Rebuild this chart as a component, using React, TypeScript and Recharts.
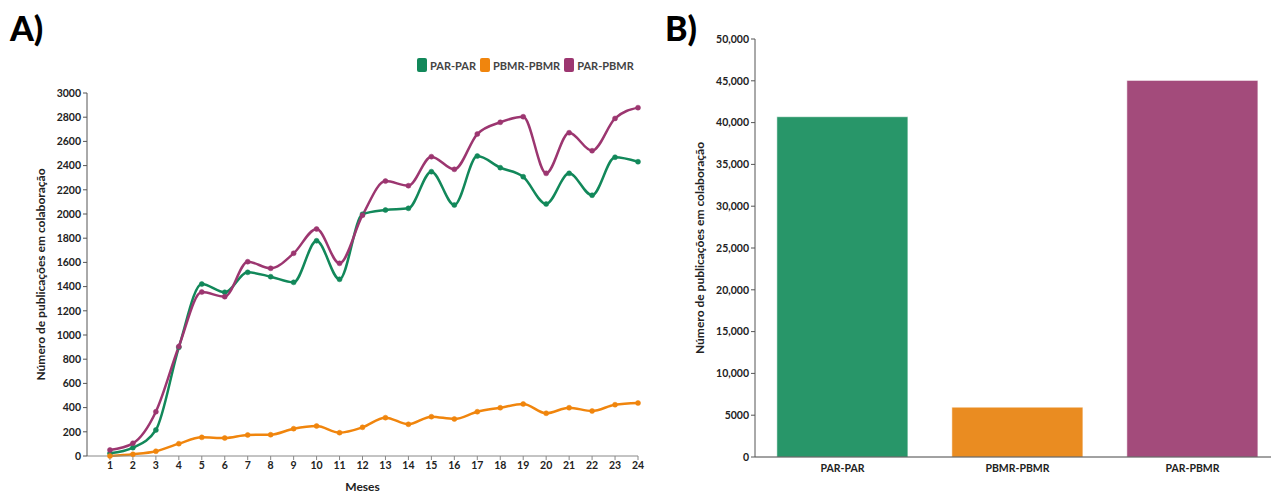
import React from 'react';
import { LineChart, Line, BarChart, Bar, Cell, XAxis, YAxis } from 'recharts';

// monthly collaboration counts (chart A)
const months = [1, 2, 3, 4, 5, 6, 7, 8, 9, 10, 11, 12, 13, 14, 15, 16, 17, 18, 19, 20, 21, 22, 23, 24];
const parPar = [22, 69, 215, 898, 1421, 1353, 1518, 1482, 1435, 1779, 1460, 1998, 2033, 2047, 2350, 2074, 2479, 2383, 2308, 2083, 2336, 2155, 2469, 2432];
const pbmrPbmr = [0, 14, 39, 102, 154, 149, 174, 176, 226, 248, 193, 237, 317, 262, 325, 306, 366, 399, 430, 353, 399, 372, 424, 438];
const parPbmr = [50, 105, 366, 905, 1355, 1317, 1606, 1551, 1675, 1876, 1592, 1990, 2272, 2234, 2474, 2369, 2661, 2758, 2804, 2336, 2672, 2523, 2790, 2879];

// totals (chart B)
const categories = ['PAR-PAR', 'PBMR-PBMR', 'PAR-PBMR'];
const totals = [40700, 5960, 45050];

const lineTicks = [0, 200, 400, 600, 800, 1000, 1200, 1400, 1600, 1800, 2000, 2200, 2400, 2600, 2800, 3000];
const barTicks = [0, 5000, 10000, 15000, 20000, 25000, 30000, 35000, 40000, 45000, 50000];

const lineColors = ['#12885a', '#f0850d', '#9c3670'];
const barColors = ['#289669', '#ea8c21', '#a34b7b'];
const seriesKeys = ['parPar', 'pbmrPbmr', 'parPbmr'];

const lineData = months.map((m, i) => ({
    month: m,
    parPar: parPar[i],
    pbmrPbmr: pbmrPbmr[i],
    parPbmr: parPbmr[i],
}));

const barData = categories.map((c, i) => ({ name: c, total: totals[i] }));

const FONT = 'Lato, "Open Sans", sans-serif';
const tickStyle = { fontFamily: FONT, fontSize: 10.5, fontWeight: 700, fill: '#222' };
const axisTitle = { fontFamily: FONT, fontSize: 12, fontWeight: 700, fill: '#222' };

const fmtBar = (v: number) => (v >= 10000 ? v.toLocaleString('en-US') : String(v));

const App: React.FC = () => {
    return (
        <div style={{ position: 'absolute', left: 0, top: 0, width: 1271, height: 495, overflow: 'hidden', background: '#fff' }}>
            <div style={{ position: 'absolute', left: 10, top: 7, fontFamily: FONT, fontSize: 34, fontWeight: 900, color: '#000' }}>A)</div>
            <div style={{ position: 'absolute', left: 665, top: 7, fontFamily: FONT, fontSize: 34, fontWeight: 900, color: '#000' }}>B)</div>

            {/* legend for chart A */}
            <div style={{ position: 'absolute', left: 417, top: 58, display: 'flex', alignItems: 'center', fontFamily: FONT, fontSize: 11, fontWeight: 700, color: '#444' }}>
                {categories.map((c, i) => (
                    <div key={c} style={{ display: 'flex', alignItems: 'center', marginRight: 4 }}>
                        <span style={{ display: 'inline-block', width: 10, height: 14, borderRadius: 2, background: lineColors[i], marginRight: 3 }} />
                        <span>{c}</span>
                    </div>
                ))}
            </div>

            <div style={{ position: 'absolute', left: 0, top: 0 }}>
                <LineChart width={660} height={495} data={lineData} margin={{ top: 93, right: 22, bottom: 0, left: 27 }}>
                    <XAxis
                        dataKey="month"
                        type="number"
                        domain={[0, 24]}
                        ticks={months}
                        interval={0}
                        height={39}
                        tick={tickStyle}
                        tickSize={4}
                        stroke="#888"
                        label={{ value: 'Meses', position: 'insideBottom', offset: 4, style: axisTitle }}
                    />
                    <YAxis
                        domain={[0, 3000]}
                        ticks={lineTicks}
                        interval={0}
                        width={60}
                        tick={tickStyle}
                        tickSize={4}
                        stroke="#555"
                        label={{ value: 'Número de publicações em colaboração', angle: -90, position: 'insideLeft', offset: 14, style: { ...axisTitle, textAnchor: 'middle' } }}
                    />
                    {seriesKeys.map((k, i) => (
                        <Line
                            key={k}
                            type="monotone"
                            dataKey={k}
                            stroke={lineColors[i]}
                            strokeWidth={2.5}
                            dot={{ r: 2.5, fill: lineColors[i], stroke: lineColors[i], strokeWidth: 0.5 }}
                            isAnimationActive={false}
                        />
                    ))}
                </LineChart>
            </div>

            <div style={{ position: 'absolute', left: 660, top: 0 }}>
                <BarChart width={620} height={495} data={barData} margin={{ top: 39, right: 0, bottom: 0, left: 35 }} barCategoryGap="12.5%">
                    <XAxis dataKey="name" height={38} tick={tickStyle} tickLine={false} stroke="#444" />
                    <YAxis
                        domain={[0, 50000]}
                        ticks={barTicks}
                        interval={0}
                        width={60}
                        tick={tickStyle}
                        tickSize={4}
                        tickFormatter={fmtBar}
                        stroke="#555"
                        label={{ value: 'Número de publicações em colaboração', angle: -90, position: 'insideLeft', offset: 5, style: { ...axisTitle, textAnchor: 'middle' } }}
                    />
                    <Bar dataKey="total" isAnimationActive={false} stroke="#ffffff" strokeOpacity={0.5} strokeWidth={1}>
                        {barData.map((d, i) => (
                            <Cell key={d.name} fill={barColors[i]} />
                        ))}
                    </Bar>
                </BarChart>
            </div>
        </div>
    );
};

export default App;
